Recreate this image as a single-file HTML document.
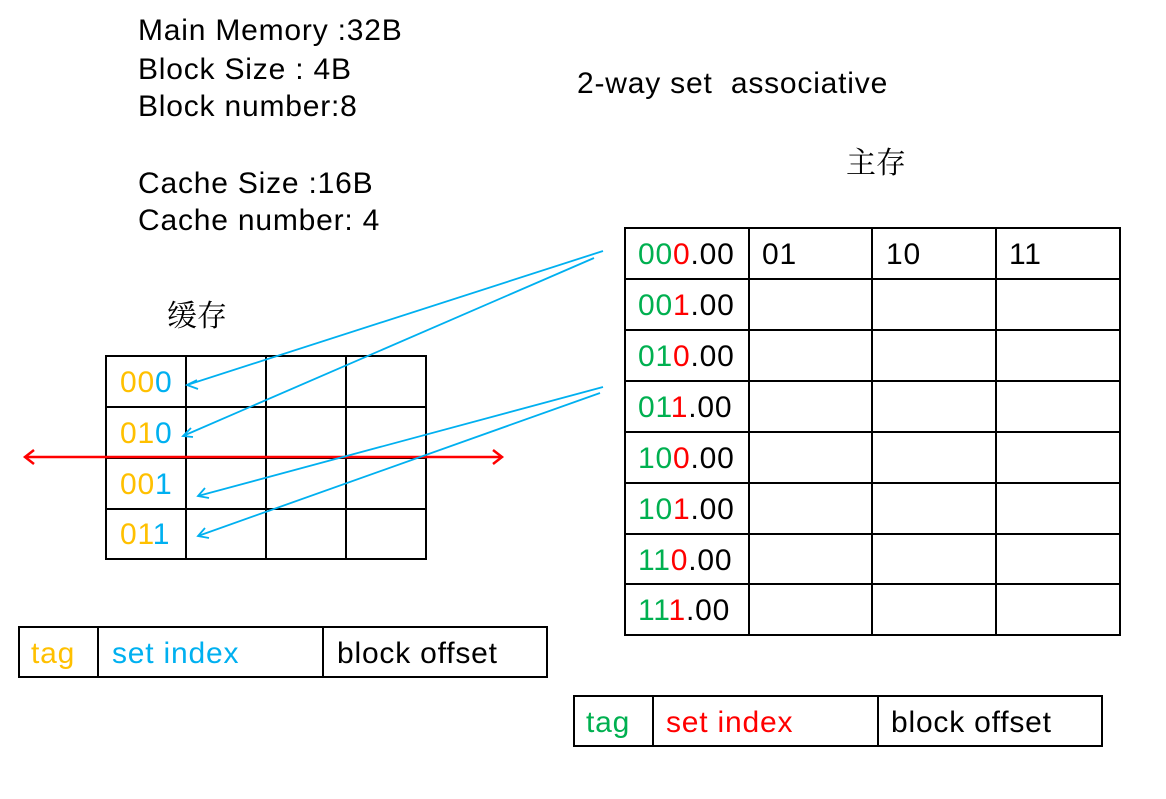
<!DOCTYPE html>
<html><head><meta charset="utf-8"><style>
html,body{margin:0;padding:0;background:#fff;}
svg{display:block;}
text{font-family:"Liberation Sans",Arial,sans-serif;font-size:30px;letter-spacing:0.8px;}
.cjk{font-family:"Noto Serif CJK SC","Noto Sans CJK SC",serif;font-size:30px;letter-spacing:0;}
</style></head><body>
<svg width="1166" height="799" viewBox="0 0 1166 799" xmlns="http://www.w3.org/2000/svg">
<g fill="#000">
<text x="138" y="40">Main Memory :32B</text>
<text x="138" y="79">Block Size : 4B</text>
<text x="138" y="116">Block number:8</text>
<text x="138" y="193">Cache Size :16B</text>
<text x="138" y="230">Cache number: 4</text>
<text x="577" y="93" xml:space="preserve">2-way set  associative</text>
<text class="cjk" x="846" y="173">主存</text>
<text class="cjk" x="167" y="326">缓存</text>
</g>
<g stroke="#000" stroke-width="2" fill="none">
<rect x="625" y="228" width="495" height="407"/>
<line x1="749" y1="228" x2="749" y2="635"/>
<line x1="872" y1="228" x2="872" y2="635"/>
<line x1="996" y1="228" x2="996" y2="635"/>
<line x1="625" y1="279" x2="1120" y2="279"/>
<line x1="625" y1="330" x2="1120" y2="330"/>
<line x1="625" y1="381" x2="1120" y2="381"/>
<line x1="625" y1="432" x2="1120" y2="432"/>
<line x1="625" y1="483" x2="1120" y2="483"/>
<line x1="625" y1="534" x2="1120" y2="534"/>
<line x1="625" y1="584" x2="1120" y2="584"/>
</g>
<g>
<text x="638" y="264"><tspan fill="#00B050">00</tspan><tspan fill="#FF0000">0</tspan><tspan fill="#000">.00</tspan></text>
<text x="762" y="264" fill="#000">01</text>
<text x="886" y="264" fill="#000">10</text>
<text x="1009" y="264" fill="#000">11</text>
<text x="638" y="315"><tspan fill="#00B050">00</tspan><tspan fill="#FF0000">1</tspan><tspan fill="#000">.00</tspan></text>
<text x="638" y="366"><tspan fill="#00B050">01</tspan><tspan fill="#FF0000">0</tspan><tspan fill="#000">.00</tspan></text>
<text x="638" y="417"><tspan fill="#00B050">01</tspan><tspan fill="#FF0000">1</tspan><tspan fill="#000">.00</tspan></text>
<text x="638" y="468"><tspan fill="#00B050">10</tspan><tspan fill="#FF0000">0</tspan><tspan fill="#000">.00</tspan></text>
<text x="638" y="519"><tspan fill="#00B050">10</tspan><tspan fill="#FF0000">1</tspan><tspan fill="#000">.00</tspan></text>
<text x="638" y="570"><tspan fill="#00B050">11</tspan><tspan fill="#FF0000">0</tspan><tspan fill="#000">.00</tspan></text>
<text x="638" y="620"><tspan fill="#00B050">11</tspan><tspan fill="#FF0000">1</tspan><tspan fill="#000">.00</tspan></text>
</g>
<g stroke="#000" stroke-width="2" fill="none">
<rect x="106" y="356" width="320" height="203"/>
<line x1="186" y1="356" x2="186" y2="559"/>
<line x1="266" y1="356" x2="266" y2="559"/>
<line x1="346" y1="356" x2="346" y2="559"/>
<line x1="106" y1="407" x2="426" y2="407"/>
<line x1="106" y1="458" x2="426" y2="458"/>
<line x1="106" y1="509" x2="426" y2="509"/>
</g>
<g>
<text x="120" y="392"><tspan fill="#FFC000">00</tspan><tspan fill="#00B0F0">0</tspan></text>
<text x="120" y="443"><tspan fill="#FFC000">01</tspan><tspan fill="#00B0F0">0</tspan></text>
<text x="120" y="494"><tspan fill="#FFC000">00</tspan><tspan fill="#00B0F0">1</tspan></text>
<text x="120" y="544"><tspan fill="#FFC000">01</tspan><tspan fill="#00B0F0">1</tspan></text>
</g>
<g stroke="#FF0000" stroke-width="2.5" fill="none">
<line x1="25" y1="457" x2="502" y2="457"/>
<polyline points="34,450 25,457 34,464"/>
<polyline points="493,450 502,457 493,464"/>
</g>
<g stroke="#00B0F0" stroke-width="1.8" fill="none">
<line x1="603" y1="251" x2="187" y2="385"/>
<polyline points="197,380 187,385 198,389"/>
<line x1="594" y1="258" x2="183" y2="436"/>
<polyline points="191,428 183,436 193,437"/>
<line x1="603" y1="387" x2="198" y2="496"/>
<polyline points="205,488 198,496 209,498"/>
<line x1="600" y1="393" x2="198" y2="536"/>
<polyline points="205,528 198,536 209,538"/>
</g>
<g stroke="#000" stroke-width="2" fill="none">
<rect x="19" y="627" width="528" height="50"/>
<line x1="98" y1="627" x2="98" y2="677"/>
<line x1="323" y1="627" x2="323" y2="677"/>
<rect x="574" y="696" width="528" height="50"/>
<line x1="653" y1="696" x2="653" y2="746"/>
<line x1="878" y1="696" x2="878" y2="746"/>
</g>
<text x="31" y="663" fill="#FFC000">tag</text>
<text x="112" y="663" fill="#00B0F0">set index</text>
<text x="337" y="663" fill="#000">block offset</text>
<text x="586" y="732" fill="#00B050">tag</text>
<text x="666" y="732" fill="#FF0000">set index</text>
<text x="891" y="732" fill="#000">block offset</text>
</svg>
</body></html>
